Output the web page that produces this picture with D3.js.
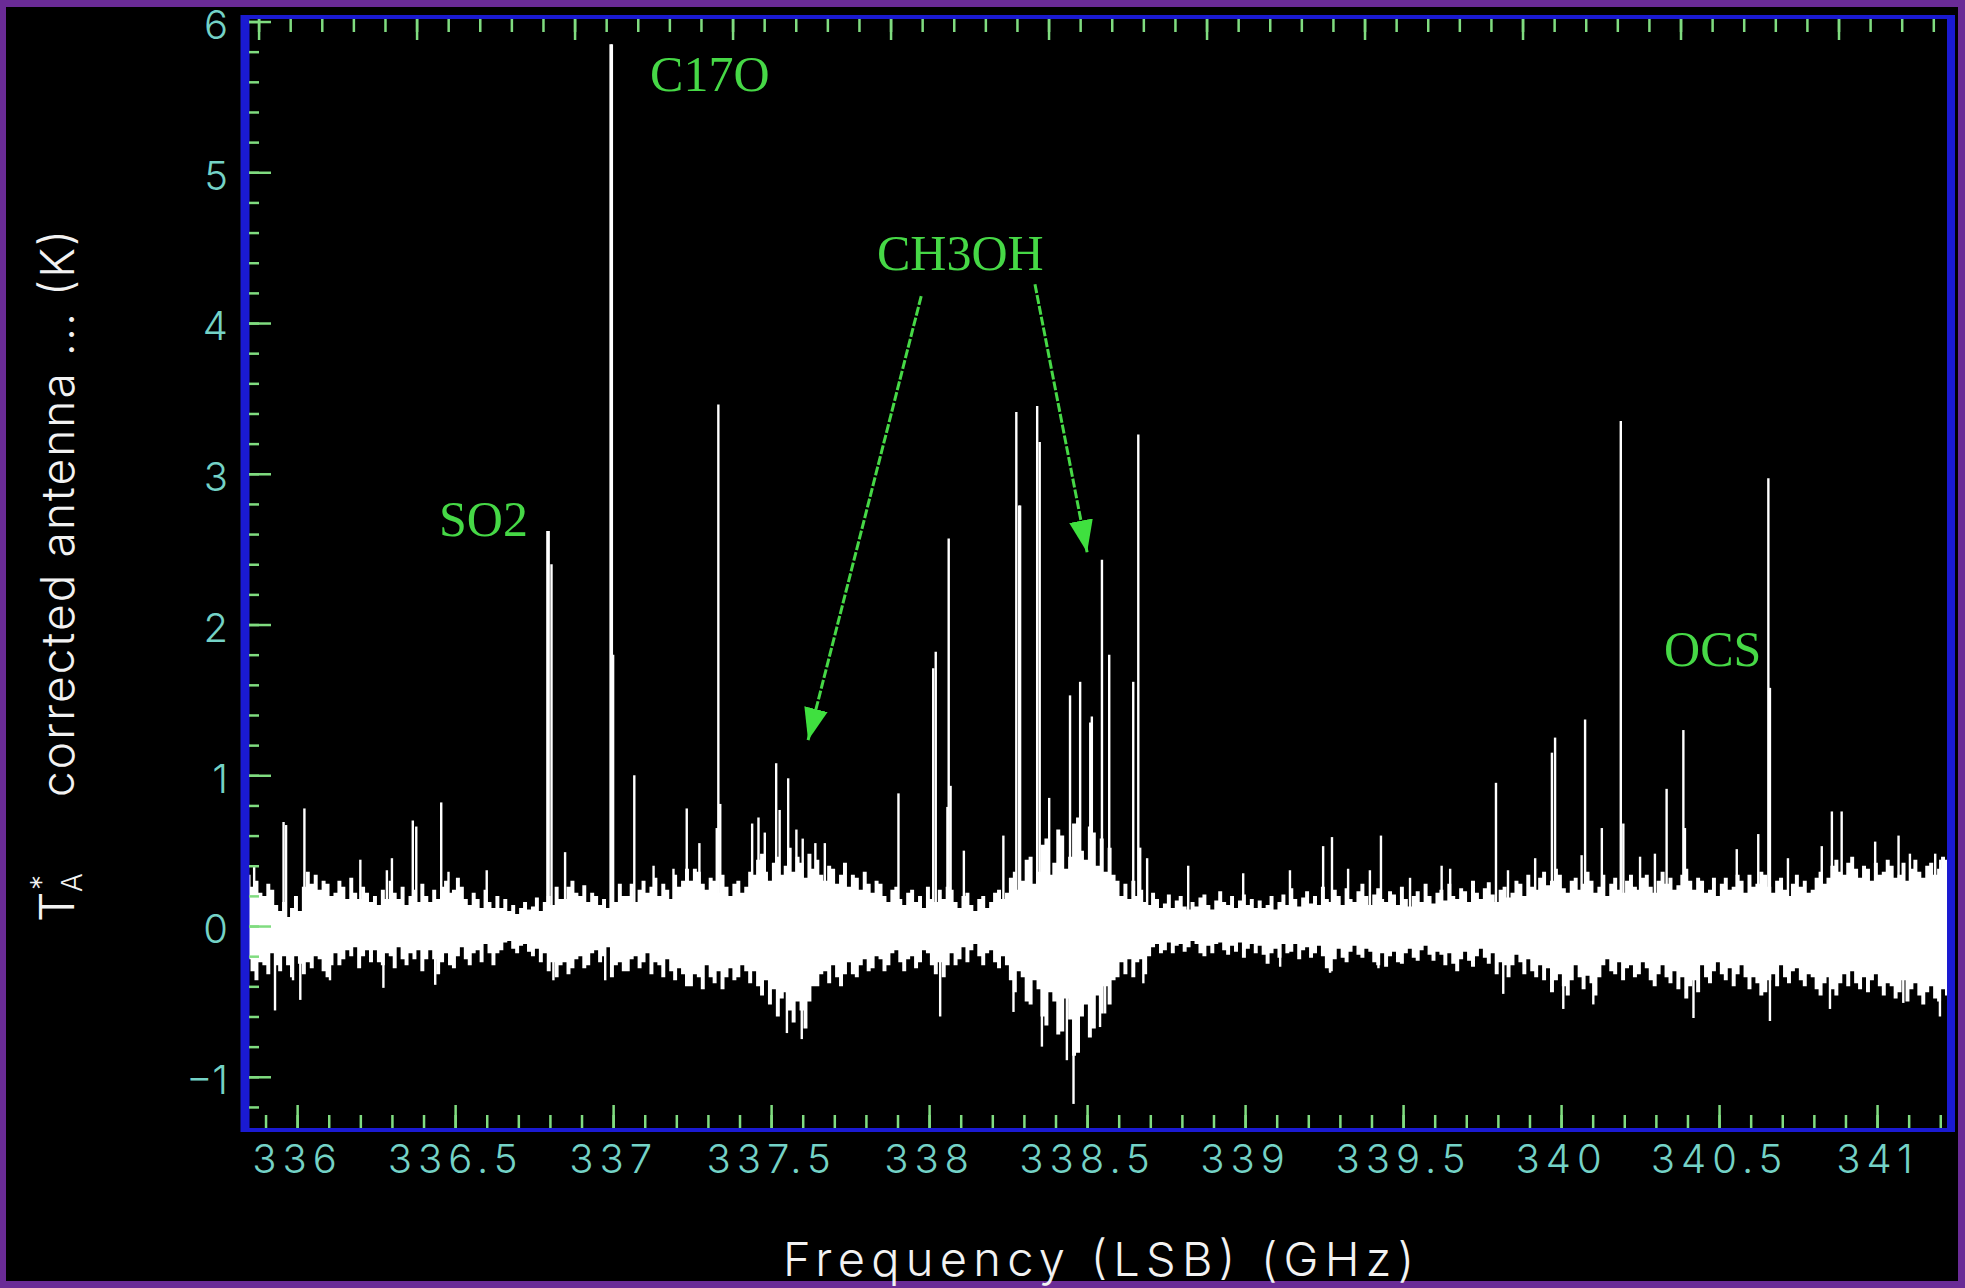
<!DOCTYPE html>
<html>
<head>
<meta charset="utf-8" />
<title>Spectrum LSB | D3</title>
<style>
body { margin: 0; background: #6a2b96; }
svg { display: block; }
.tick text { font-family: "Inter", "Roboto", sans-serif; font-weight: 300; }
</style>
<script src="https://d3js.org/d3.v7.min.js"></script>
</head>
<body>
<script>
var width = 1965;
var height = 1288;

// tick labels
var xTicks = [336, 336.5, 337, 337.5, 338, 338.5, 339, 339.5, 340, 340.5, 341];
var yTicks = [-1, 0, 1, 2, 3, 4, 5, 6];

// noise band of the spectrum: channel high / low, one pair every 12.5 MHz from 335.84 GHz
var bandStart = 335.84;
var bandStep = 0.0125;
var bandHigh = [
  0.34,0.26,0.30,0.22,0.20,0.28,0.24,0.14,0.10,0.16,0.06,0.12,0.20,0.10,0.26,0.36,
  0.28,0.34,0.24,0.30,0.28,0.20,0.22,0.30,0.26,0.18,0.32,0.22,0.18,0.26,0.22,0.16,
  0.20,0.14,0.24,0.18,0.30,0.22,0.18,0.26,0.14,0.20,0.24,0.16,0.28,0.20,0.16,0.24,
  0.18,0.26,0.30,0.22,0.24,0.32,0.26,0.18,0.14,0.22,0.18,0.12,0.24,0.16,0.12,0.20,
  0.12,0.18,0.10,0.14,0.08,0.12,0.16,0.11,0.13,0.19,0.10,0.16,0.20,0.14,0.26,0.18,
  0.18,0.26,0.30,0.22,0.20,0.27,0.16,0.22,0.20,0.14,0.18,0.12,0.24,0.16,0.28,0.20,
  0.20,0.28,0.16,0.24,0.30,0.22,0.26,0.32,0.20,0.28,0.24,0.18,0.34,0.26,0.30,0.38,
  0.30,0.38,0.36,0.28,0.24,0.32,0.30,0.22,0.34,0.26,0.20,0.28,0.30,0.22,0.26,0.36,
  0.34,0.44,0.48,0.36,0.30,0.42,0.46,0.34,0.40,0.52,0.36,0.46,0.42,0.32,0.48,0.38,
  0.44,0.34,0.30,0.40,0.38,0.28,0.34,0.42,0.26,0.34,0.32,0.24,0.36,0.28,0.22,0.30,
  0.28,0.20,0.16,0.24,0.26,0.18,0.14,0.22,0.24,0.16,0.20,0.12,0.26,0.18,0.16,0.24,
  0.18,0.26,0.24,0.16,0.12,0.20,0.22,0.14,0.10,0.18,0.20,0.12,0.16,0.22,0.24,0.18,
  0.22,0.32,0.36,0.24,0.30,0.44,0.46,0.28,0.36,0.54,0.58,0.34,0.42,0.64,0.60,0.38,
  0.46,0.68,0.72,0.50,0.44,0.66,0.62,0.40,0.58,0.36,0.52,0.34,0.30,0.20,0.28,0.18,
  0.30,0.20,0.24,0.16,0.14,0.22,0.18,0.12,0.15,0.21,0.12,0.17,0.20,0.13,0.11,0.16,
  0.13,0.19,0.21,0.14,0.11,0.17,0.23,0.16,0.14,0.20,0.12,0.17,0.21,0.14,0.18,0.12,
  0.17,0.12,0.14,0.20,0.11,0.16,0.21,0.14,0.25,0.18,0.13,0.19,0.23,0.15,0.20,0.14,
  0.26,0.18,0.16,0.24,0.20,0.14,0.25,0.18,0.16,0.23,0.28,0.20,0.14,0.21,0.25,0.18,
  0.16,0.23,0.21,0.14,0.26,0.18,0.13,0.20,0.23,0.16,0.28,0.20,0.15,0.22,0.24,0.17,
  0.28,0.20,0.18,0.25,0.23,0.16,0.30,0.22,0.18,0.25,0.29,0.21,0.16,0.24,0.26,0.19,
  0.22,0.30,0.28,0.20,0.34,0.26,0.24,0.32,0.36,0.27,0.30,0.38,0.34,0.25,0.22,0.30,
  0.32,0.24,0.28,0.36,0.30,0.22,0.26,0.34,0.20,0.28,0.32,0.24,0.22,0.30,0.34,0.26,
  0.24,0.32,0.34,0.26,0.22,0.30,0.36,0.28,0.32,0.24,0.27,0.34,0.38,0.30,0.24,0.32,
  0.30,0.22,0.24,0.32,0.20,0.28,0.32,0.24,0.26,0.34,0.30,0.22,0.34,0.26,0.28,0.36,
  0.34,0.26,0.22,0.30,0.32,0.24,0.20,0.28,0.34,0.26,0.30,0.22,0.24,0.32,0.36,0.28,
  0.32,0.40,0.44,0.36,0.34,0.42,0.46,0.38,0.32,0.40,0.38,0.30,0.42,0.34,0.36,0.44,
  0.40,0.32,0.34,0.42,0.30,0.38,0.44,0.36,0.32,0.40,0.42,0.34,0.38,0.46,0.44,0.36
];
var bandLow = [
  -0.22,-0.30,-0.36,-0.24,-0.26,-0.32,-0.18,-0.26,-0.30,-0.20,-0.26,-0.34,-0.20,-0.25,-0.32,-0.24,
  -0.28,-0.20,-0.22,-0.30,-0.34,-0.26,-0.18,-0.26,-0.22,-0.16,-0.20,-0.14,-0.28,-0.20,-0.16,-0.24,
  -0.16,-0.24,-0.26,-0.18,-0.20,-0.28,-0.14,-0.22,-0.26,-0.18,-0.22,-0.16,-0.30,-0.22,-0.16,-0.22,
  -0.32,-0.24,-0.18,-0.26,-0.28,-0.20,-0.14,-0.22,-0.26,-0.18,-0.16,-0.24,-0.12,-0.18,-0.26,-0.18,
  -0.16,-0.11,-0.10,-0.15,-0.18,-0.13,-0.12,-0.17,-0.20,-0.15,-0.24,-0.18,-0.30,-0.24,-0.34,-0.26,
  -0.24,-0.32,-0.28,-0.22,-0.20,-0.28,-0.26,-0.18,-0.16,-0.24,-0.20,-0.14,-0.34,-0.26,-0.24,-0.30,
  -0.30,-0.22,-0.20,-0.28,-0.24,-0.18,-0.32,-0.24,-0.26,-0.34,-0.22,-0.30,-0.36,-0.28,-0.32,-0.40,
  -0.40,-0.32,-0.34,-0.42,-0.26,-0.34,-0.38,-0.30,-0.42,-0.34,-0.28,-0.36,-0.34,-0.26,-0.30,-0.38,
  -0.30,-0.40,-0.46,-0.36,-0.52,-0.42,-0.60,-0.48,-0.44,-0.56,-0.64,-0.50,-0.56,-0.68,-0.50,-0.40,
  -0.40,-0.32,-0.30,-0.38,-0.26,-0.34,-0.40,-0.32,-0.24,-0.32,-0.34,-0.26,-0.22,-0.30,-0.28,-0.20,
  -0.22,-0.30,-0.26,-0.18,-0.16,-0.24,-0.30,-0.22,-0.20,-0.28,-0.24,-0.16,-0.18,-0.26,-0.32,-0.24,
  -0.34,-0.26,-0.18,-0.26,-0.22,-0.14,-0.24,-0.16,-0.12,-0.20,-0.26,-0.18,-0.16,-0.24,-0.28,-0.20,
  -0.26,-0.36,-0.44,-0.30,-0.34,-0.50,-0.52,-0.36,-0.42,-0.60,-0.66,-0.44,-0.50,-0.72,-0.70,-0.48,
  -0.62,-0.86,-0.84,-0.60,-0.52,-0.74,-0.68,-0.46,-0.58,-0.40,-0.52,-0.36,-0.34,-0.24,-0.32,-0.22,
  -0.34,-0.24,-0.22,-0.32,-0.20,-0.14,-0.12,-0.18,-0.16,-0.11,-0.18,-0.13,-0.12,-0.17,-0.14,-0.10,
  -0.12,-0.18,-0.20,-0.13,-0.18,-0.12,-0.11,-0.16,-0.19,-0.13,-0.17,-0.11,-0.21,-0.15,-0.12,-0.18,
  -0.13,-0.19,-0.25,-0.18,-0.15,-0.21,-0.12,-0.18,-0.17,-0.12,-0.22,-0.16,-0.14,-0.21,-0.18,-0.13,
  -0.20,-0.28,-0.30,-0.22,-0.15,-0.21,-0.24,-0.17,-0.13,-0.19,-0.21,-0.15,-0.17,-0.24,-0.26,-0.18,
  -0.27,-0.20,-0.17,-0.24,-0.25,-0.18,-0.15,-0.21,-0.23,-0.16,-0.13,-0.19,-0.23,-0.17,-0.19,-0.26,
  -0.18,-0.25,-0.30,-0.22,-0.17,-0.23,-0.27,-0.20,-0.15,-0.21,-0.25,-0.18,-0.32,-0.24,-0.26,-0.34,
  -0.26,-0.19,-0.24,-0.32,-0.22,-0.30,-0.34,-0.26,-0.36,-0.28,-0.44,-0.36,-0.32,-0.40,-0.46,-0.36,
  -0.26,-0.34,-0.42,-0.33,-0.38,-0.46,-0.34,-0.26,-0.22,-0.30,-0.32,-0.24,-0.36,-0.28,-0.26,-0.34,
  -0.32,-0.24,-0.28,-0.36,-0.40,-0.32,-0.26,-0.34,-0.38,-0.30,-0.42,-0.34,-0.48,-0.40,-0.36,-0.44,
  -0.26,-0.34,-0.38,-0.30,-0.24,-0.32,-0.36,-0.28,-0.40,-0.32,-0.26,-0.34,-0.42,-0.34,-0.38,-0.46,
  -0.44,-0.36,-0.32,-0.40,-0.26,-0.34,-0.38,-0.30,-0.28,-0.36,-0.40,-0.32,-0.34,-0.42,-0.46,-0.38,
  -0.34,-0.42,-0.46,-0.38,-0.32,-0.40,-0.30,-0.38,-0.42,-0.34,-0.44,-0.36,-0.32,-0.40,-0.46,-0.38,
  -0.40,-0.48,-0.44,-0.36,-0.50,-0.42,-0.38,-0.46,-0.52,-0.44,-0.40,-0.48,-0.50,-0.42,-0.46,-0.54
];

// single channels rising above the band (GHz, K)
var lineFreq = [
  335.864,335.957,335.965,336.023,336.200,336.284,336.300,336.366,336.377,336.456,
  336.479,336.600,336.792,336.796,336.805,336.848,336.992,336.996,337.000,337.067,
  337.128,337.191,337.233,337.273,337.328,337.333,337.339,337.440,337.460,337.480,
  337.516,337.527,337.554,337.580,337.600,337.640,337.670,337.903,338.013,338.021,
  338.058,338.062,338.068,338.110,338.235,338.276,338.285,338.288,338.342,338.350,
  338.380,338.446,338.478,338.510,338.515,338.547,338.570,338.646,338.662,338.668,
  338.690,338.820,338.994,339.142,339.247,339.275,339.326,339.395,339.430,339.522,
  339.622,339.649,339.794,339.832,339.918,339.971,339.981,340.065,340.076,340.129,
  340.189,340.197,340.250,340.297,340.334,340.387,340.392,340.556,340.624,340.656,
  340.661,340.718,340.825,340.857,340.888,340.994,341.068,341.104,341.184,341.200
];
var lineTop = [
  0.40,0.69,0.67,0.78,0.44,0.37,0.45,0.70,0.66,0.82,
  0.36,0.37,2.62,2.62,2.40,0.49,5.85,5.85,1.80,1.00,
  0.40,0.38,0.78,0.55,0.65,3.46,0.81,0.68,0.72,0.62,
  1.08,0.77,0.98,0.64,0.58,0.55,0.55,0.88,1.71,1.82,
  0.79,2.57,0.93,0.50,0.60,3.41,2.79,2.79,3.45,3.21,
  0.85,1.53,1.62,1.35,1.39,2.43,1.80,1.62,3.26,0.52,
  0.45,0.40,0.35,0.37,0.53,0.59,0.38,0.37,0.60,0.32,
  0.40,0.38,0.95,0.37,0.45,1.15,1.25,0.47,1.37,0.65,
  3.35,0.68,0.46,0.48,0.91,1.30,0.65,0.51,0.61,2.97,
  1.58,0.45,0.53,0.76,0.76,0.56,0.60,0.48,0.48,0.44
];

// single channels dropping below the band (GHz, K)
var dipFreq = [
  335.930,335.987,336.010,336.104,336.273,336.437,336.811,336.975,337.550,337.597,
  338.035,338.267,338.357,338.436,338.457,338.541,338.557,338.678,339.111,339.269,
  339.422,339.817,340.007,340.102,340.419,340.661,340.851,341.083,341.199
];
var dipBottom = [
  -0.56,-0.36,-0.49,-0.36,-0.41,-0.39,-0.36,-0.36,-0.71,-0.75,
  -0.60,-0.57,-0.80,-0.89,-1.18,-0.67,-0.58,-0.38,-0.27,-0.31,
  -0.28,-0.45,-0.55,-0.52,-0.61,-0.63,-0.55,-0.51,-0.60
];

// molecule labels, anchored at (GHz, K)
var labelText = ["SO2", "C17O", "CH3OH", "OCS"];
var labelFreq = [336.449, 337.117, 337.835, 340.326];
var labelValue = [2.586, 5.537, 4.350, 1.724];

// CH3OH arrows: tail and head (GHz, K)
var arrowFrom = [[337.975, 4.178], [338.335, 4.257]];
var arrowTo = [[337.617, 1.233], [338.500, 2.480]];

var topOffset = 0.122;   // upper axis runs 122 MHz ahead of the lower one

var plotL = 245, plotR = 1951, plotT = 17, plotB = 1130;

var svg = d3.select("body").append("svg")
  .attr("width", width)
  .attr("height", height);

svg.append("rect").attr("width", width).attr("height", height).attr("fill", "#6a2b96");
svg.append("rect").attr("x", 6).attr("y", 7).attr("width", 1952).attr("height", 1274).attr("fill", "#000");

var x = d3.scaleLinear().domain([335.835, 341.234]).range([plotL, plotR]);
var y = d3.scaleLinear().domain([-1.353, 6.03]).range([plotB, plotT]);
var xTop = d3.scaleLinear().domain([335.835 + topOffset, 341.234 + topOffset]).range([plotL, plotR]);

var defs = svg.append("defs");
defs.append("clipPath").attr("id", "plot")
  .append("rect").attr("x", plotL).attr("y", plotT).attr("width", plotR - plotL).attr("height", plotB - plotT);
defs.append("marker")
  .attr("id", "head")
  .attr("markerUnits", "userSpaceOnUse")
  .attr("markerWidth", 34).attr("markerHeight", 26)
  .attr("refX", 32).attr("refY", 12)
  .attr("orient", "auto")
  .append("path").attr("d", "M0,0 L32,12 L0,24 Z").attr("fill", "#3fe03f");

// spectrum
var band = bandHigh.map(function(h, i) {
  return { f: bandStart + i * bandStep, hi: h, lo: bandLow[i] };
});
band.push({ f: x.domain()[1], hi: bandHigh[bandHigh.length - 1], lo: bandLow[bandLow.length - 1] });

var spec = svg.append("g").attr("clip-path", "url(#plot)");

spec.append("path")
  .datum(band)
  .attr("fill", "#fff")
  .attr("d", d3.area().curve(d3.curveStepAfter)
    .x(function(d) { return x(d.f); })
    .y0(function(d) { return y(d.lo); })
    .y1(function(d) { return y(d.hi); }));

spec.selectAll("line.up")
  .data(lineFreq)
  .enter().append("line")
  .attr("class", "up")
  .attr("x1", function(d) { return x(d); })
  .attr("x2", function(d) { return x(d); })
  .attr("y1", y(0))
  .attr("y2", function(d, i) { return y(lineTop[i]); })
  .attr("stroke", "#fff")
  .attr("stroke-width", 2.4);

spec.selectAll("line.down")
  .data(dipFreq)
  .enter().append("line")
  .attr("class", "down")
  .attr("x1", function(d) { return x(d); })
  .attr("x2", function(d) { return x(d); })
  .attr("y1", y(0))
  .attr("y2", function(d, i) { return y(dipBottom[i]); })
  .attr("stroke", "#fff")
  .attr("stroke-width", 2.4);

// frame
var blue = "#1a1ad2";
svg.append("line").attr("x1", plotL).attr("x2", plotR).attr("y1", plotT).attr("y2", plotT).attr("stroke", blue).attr("stroke-width", 4);
svg.append("line").attr("x1", plotL).attr("x2", plotR).attr("y1", plotB).attr("y2", plotB).attr("stroke", blue).attr("stroke-width", 4);
svg.append("line").attr("x1", plotL).attr("x2", plotL).attr("y1", plotT - 2).attr("y2", plotB + 2).attr("stroke", blue).attr("stroke-width", 9);
svg.append("line").attr("x1", plotR).attr("x2", plotR).attr("y1", plotT - 2).attr("y2", plotB + 2).attr("stroke", blue).attr("stroke-width", 8);

// ticks
var tickColor = "#80dc80";
function ticks(sel) {
  sel.select(".domain").remove();
  sel.selectAll(".tick line").attr("stroke", tickColor).attr("stroke-width", 2.5);
}

svg.append("g").attr("transform", "translate(0," + (plotB - 2) + ")")
  .call(d3.axisTop(x).tickValues(d3.range(335.9, 341.21, 0.1)).tickSize(13).tickFormat(""))
  .call(ticks);
svg.append("g").attr("transform", "translate(0," + (plotB - 2) + ")")
  .call(d3.axisTop(x).tickValues(xTicks).tickSize(23).tickFormat(""))
  .call(ticks);

svg.append("g").attr("transform", "translate(0," + (plotT + 2) + ")")
  .call(d3.axisBottom(xTop).tickValues(d3.range(336.0, 341.36, 0.1)).tickSize(13).tickFormat(""))
  .call(ticks);
svg.append("g").attr("transform", "translate(0," + (plotT + 2) + ")")
  .call(d3.axisBottom(xTop).tickValues(d3.range(336.0, 341.36, 0.5)).tickSize(21).tickFormat(""))
  .call(ticks);

svg.append("g").attr("transform", "translate(" + (plotL + 4) + ",0)")
  .call(d3.axisRight(y).tickValues(d3.range(-1.2, 6.01, 0.2)).tickSize(10).tickFormat(""))
  .call(ticks);
svg.append("g").attr("transform", "translate(" + (plotL + 4) + ",0)")
  .call(d3.axisRight(y).tickValues(yTicks).tickSize(22).tickFormat(""))
  .call(ticks);

// tick labels
var labelColor = "#74d2c6";
var xl = svg.append("g").attr("transform", "translate(0," + plotB + ")")
  .call(d3.axisBottom(x).tickValues(xTicks).tickSize(0).tickPadding(15).tickFormat(d3.format("")));
xl.select(".domain").remove();
xl.selectAll("text").attr("fill", labelColor).attr("font-size", 40).attr("letter-spacing", 6);

var yl = svg.append("g").attr("transform", "translate(" + plotL + ",0)")
  .call(d3.axisLeft(y).tickValues(yTicks).tickSize(0).tickPadding(17));
yl.select(".domain").remove();
yl.selectAll("text").attr("fill", labelColor).attr("font-size", 40).attr("dy", "0.42em");

// axis titles
svg.append("text")
  .attr("x", 783).attr("y", 1276)
  .attr("textLength", 631).attr("lengthAdjust", "spacing")
  .attr("font-family", "Inter, Roboto, sans-serif").attr("font-weight", 300)
  .attr("font-size", 47).attr("fill", "#f2f2f2")
  .text("Frequency (LSB) (GHz)");

var yt = svg.append("g").attr("transform", "translate(74,572) rotate(-90)")
  .attr("font-family", "Inter, Roboto, sans-serif").attr("font-weight", 300).attr("fill", "#f2f2f2");
yt.append("text").attr("x", -350).attr("y", 0).attr("font-size", 48).text("T");
yt.append("text").attr("x", -320).attr("y", 8).attr("font-size", 28).text("A");
yt.append("text").attr("x", -318).attr("y", -22).attr("font-size", 30).text("*");
yt.append("text").attr("x", -225).attr("y", 0).attr("font-size", 46)
  .attr("textLength", 567).attr("lengthAdjust", "spacing")
  .text("corrected antenna ... (K)");

// molecule labels and arrows
var green = "#46d846";
svg.selectAll("text.mol")
  .data(labelText)
  .enter().append("text")
  .attr("class", "mol")
  .attr("x", function(d, i) { return x(labelFreq[i]); })
  .attr("y", function(d, i) { return y(labelValue[i]); })
  .attr("font-family", "'Liberation Serif', 'Times New Roman', serif")
  .attr("font-size", 50)
  .attr("fill", green)
  .text(function(d) { return d; });

svg.selectAll("line.arrow")
  .data(arrowFrom)
  .enter().append("line")
  .attr("class", "arrow")
  .attr("x1", function(d) { return x(d[0]); })
  .attr("y1", function(d) { return y(d[1]); })
  .attr("x2", function(d, i) { return x(arrowTo[i][0]); })
  .attr("y2", function(d, i) { return y(arrowTo[i][1]); })
  .attr("stroke", green)
  .attr("stroke-width", 3)
  .attr("stroke-dasharray", "9 2")
  .attr("marker-end", "url(#head)");
</script>
</body>
</html>
